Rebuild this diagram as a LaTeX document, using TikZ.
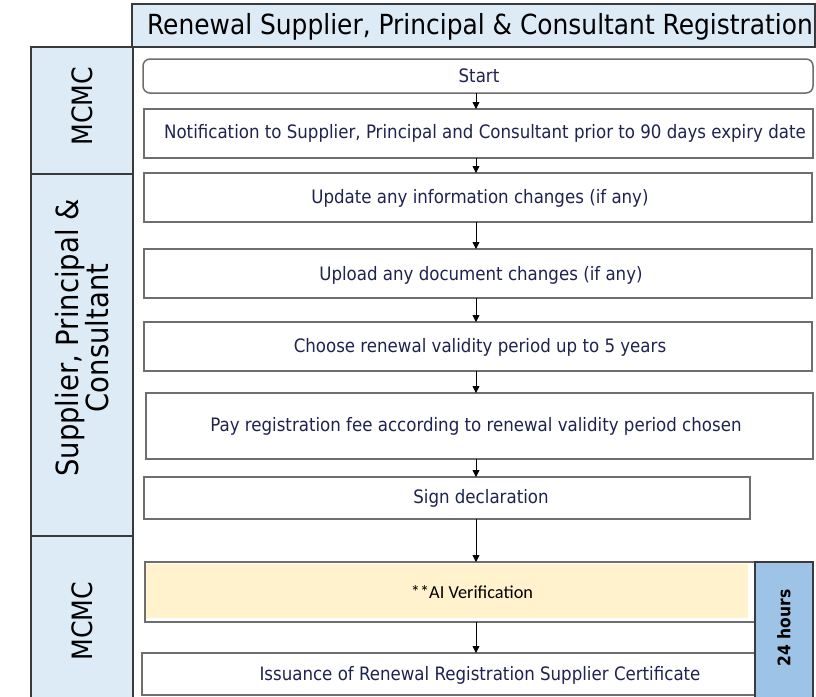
\documentclass[tikz,border=0pt]{standalone}
\usepackage{fontspec}
\setmainfont{DejaVu Sans Condensed}
\newfontfamily\calfont{Carlito}
\usetikzlibrary{arrows.meta}
\definecolor{lanefill}{HTML}{DDEBF7}
\definecolor{hourfill}{HTML}{9DC3E6}
\definecolor{aifill}{HTML}{FFF2CC}
\definecolor{navy}{HTML}{1F2350}
\definecolor{boxline}{HTML}{6E6E6E}
\definecolor{laneline}{HTML}{3A3A3A}
\tikzset{
  lanebox/.style={draw=laneline, line width=1.6pt, fill=lanefill, inner sep=0pt, outer sep=0pt, anchor=north west},
  stepbox/.style={draw=boxline, line width=1.5pt, fill=white, inner sep=0pt, outer sep=0pt, anchor=north west},
  steptext/.style={text=navy, font=\fontsize{18.5}{22}\selectfont, inner sep=0pt},
  lanetext/.style={text=black, font=\fontsize{28}{31}\selectfont, rotate=90, align=center, inner sep=0pt},
  arr/.style={-{Triangle[length=7pt,width=7pt]}, line width=0.8pt, black}
}
\begin{document}
\begin{tikzpicture}[x=1pt,y=-1pt]
\useasboundingbox (0,0) rectangle (816,696);
% header
\node[lanebox, minimum width=683pt, minimum height=43pt] (hdr) at (132,4) {};
\node[font=\fontsize{27.7}{32}\selectfont, text=black, inner sep=0pt] (title) at (480,27) {Renewal Supplier, Principal \& Consultant Registration};
% lanes
\node[lanebox, minimum width=102pt, minimum height=127pt] (lane1) at (31,47) {};
\node[lanebox, minimum width=102pt, minimum height=362pt] (lane2) at (31,174) {};
\node[lanebox, minimum width=102pt, minimum height=164pt] (lane3) at (31,536) {};
\node[lanetext] (l1t) at (82,106) {MCMC};
\node[lanetext, font=\fontsize{30.5}{30}\selectfont] (l2t) at (82,338) {Supplier, Principal \&\\Consultant};
\node[lanetext] (l3t) at (82,621) {MCMC};
% steps
\node[stepbox, rounded corners=7pt, minimum width=670pt, minimum height=34pt] (start) at (143,59) {};
\node[stepbox, minimum width=669pt, minimum height=49pt] (notif) at (144,109) {};
\node[stepbox, minimum width=668pt, minimum height=49pt] (upd) at (144,173) {};
\node[stepbox, minimum width=668pt, minimum height=49pt] (upl) at (144,249) {};
\node[stepbox, minimum width=668pt, minimum height=49pt] (cho) at (144,322) {};
\node[stepbox, minimum width=667pt, minimum height=66pt] (pay) at (146,393) {};
\node[stepbox, minimum width=606pt, minimum height=42pt] (sign) at (144,477) {};
\node[stepbox, minimum width=610pt, minimum height=60pt] (ai) at (145,562) {};
\fill[aifill] (146,563.5) rectangle (748,618);
\node[stepbox, minimum width=613pt, minimum height=42pt] (iss) at (142,653) {};
\node[lanebox, draw=laneline, fill=hourfill, line width=1.5pt, minimum width=58pt, minimum height=136pt] (hours) at (755,562) {};
% texts
\node[steptext] (t0) at (479,76) {Start};
\node[steptext] (t1) at (485,133) {Notification to Supplier, Principal and Consultant prior to 90 days expiry date};
\node[steptext] (t2) at (480,198) {Update any information changes (if any)};
\node[steptext] (t3) at (481,275) {Upload any document changes (if any)};
\node[steptext] (t4) at (480,347) {Choose renewal validity period up to 5 years};
\node[steptext] (t5) at (476,426) {Pay registration fee according to renewal validity period chosen};
\node[steptext] (t6) at (481,498) {Sign declaration};
\node[text=black, font=\calfont\fontsize{18.3}{22}\selectfont, inner sep=0pt] (t7) at (472,592) {**AI Verification};
\node[steptext] (t8) at (480,675) {Issuance of Renewal Registration Supplier Certificate};
\node[text=black, font=\fontsize{17.3}{20}\bfseries, rotate=90, inner sep=0pt] (t9) at (784,628) {24 hours};
% arrows
\coordinate (ax) at (476,0);
\draw[arr] (start.south -| ax) -- (notif.north -| ax);
\draw[arr] (notif.south -| ax) -- (upd.north -| ax);
\draw[arr] (upd.south -| ax) -- (upl.north -| ax);
\draw[arr] (upl.south -| ax) -- (cho.north -| ax);
\draw[arr] (cho.south -| ax) -- (pay.north -| ax);
\draw[arr] (pay.south -| ax) -- (sign.north -| ax);
\draw[arr] (sign.south -| ax) -- (ai.north -| ax);
\draw[arr] (ai.south -| ax) -- (iss.north -| ax);
\end{tikzpicture}
\end{document}
